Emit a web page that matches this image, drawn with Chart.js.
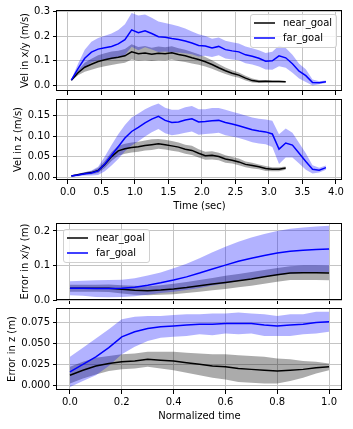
<!DOCTYPE html>
<html>
<head>
<meta charset="utf-8">
<script src="https://cdn.jsdelivr.net/npm/chart.js@4.4.0/dist/chart.umd.min.js"></script>
<style>
html, body { margin: 0; padding: 0; background: #fff; }
body { width: 353px; height: 429px; position: relative; overflow: hidden; }
.p { position: absolute; left: 0; width: 353px; }
</style>
</head>
<body>
<div class="p" style="top:0;height:100px;z-index:2"><canvas id="c1" width="353" height="100"></canvas></div>
<div class="p" style="top:90px;height:130px;z-index:1"><canvas id="c2" width="353" height="130"></canvas></div>
<div class="p" style="top:214px;height:95px;z-index:2"><canvas id="c3" width="353" height="95"></canvas></div>
<div class="p" style="top:299px;height:130px;z-index:1"><canvas id="c4" width="353" height="130"></canvas></div>
<script>
// time axes
var timeNear = [0.05,0.15,0.25,0.35,0.45,0.55,0.65,0.75,0.85,0.95,1.05,1.15,1.25,1.35,1.45,1.55,1.65,1.75,1.85,1.95,
                2.05,2.15,2.25,2.35,2.45,2.55,2.65,2.75,2.85,2.95,3.05,3.15,3.25];
var timeFar = [0.05,0.15,0.25,0.35,0.45,0.55,0.65,0.75,0.85,0.95,1.05,1.15,1.25,1.35,1.45,1.55,1.65,1.75,1.85,1.95,
               2.05,2.15,2.25,2.35,2.45,2.55,2.65,2.75,2.85,2.95,3.05,3.15,3.25,3.35,3.45,3.55,3.65,3.75,3.85];
var normTime = [0,0.05,0.1,0.15,0.2,0.25,0.3,0.35,0.4,0.45,0.5,0.55,0.6,0.65,0.7,0.75,0.8,0.85,0.9,0.95,1.0];

// Vel in x/y
var nearVelXY = [0.021,0.052,0.074,0.086,0.097,0.104,0.110,0.114,0.120,0.136,0.128,0.131,0.126,0.130,0.128,0.132,0.125,0.120,0.112,0.105,
                 0.096,0.085,0.072,0.060,0.050,0.042,0.030,0.020,0.016,0.017,0.016,0.016,0.015];
var nearVelXYStd = [0.003,0.010,0.018,0.022,0.025,0.026,0.027,0.026,0.028,0.031,0.028,0.029,0.027,0.028,0.027,0.027,0.026,0.025,0.023,0.021,
                    0.019,0.017,0.015,0.013,0.012,0.011,0.010,0.008,0.006,0.005,0.004,0.004,0.003];
var farVelXY = [0.022,0.068,0.110,0.135,0.147,0.153,0.158,0.168,0.185,0.225,0.213,0.221,0.210,0.197,0.195,0.190,0.186,0.180,0.172,0.162,
                0.160,0.152,0.158,0.145,0.140,0.136,0.124,0.118,0.110,0.098,0.100,0.120,0.112,0.088,0.058,0.040,0.012,0.011,0.015];
var farVelXYStd = [0.003,0.020,0.035,0.042,0.045,0.048,0.052,0.056,0.062,0.068,0.070,0.066,0.064,0.062,0.058,0.056,0.053,0.050,0.046,0.045,
                   0.040,0.037,0.036,0.036,0.035,0.034,0.034,0.033,0.033,0.033,0.036,0.042,0.040,0.036,0.030,0.026,0.012,0.006,0.005];

// Vel in z
var nearVelZ = [0.003,0.006,0.009,0.011,0.016,0.031,0.050,0.064,0.069,0.072,0.074,0.077,0.079,0.081,0.079,0.076,0.073,0.068,0.065,0.058,
                0.052,0.053,0.050,0.044,0.041,0.037,0.031,0.028,0.025,0.021,0.019,0.019,0.022];
var nearVelZStd = [0.001,0.002,0.003,0.004,0.006,0.009,0.011,0.012,0.012,0.012,0.012,0.012,0.013,0.012,0.012,0.012,0.011,0.011,0.011,0.010,
                   0.010,0.010,0.009,0.009,0.008,0.008,0.007,0.007,0.006,0.006,0.005,0.005,0.004];
var farVelZ = [0.003,0.005,0.008,0.010,0.015,0.032,0.053,0.074,0.095,0.111,0.121,0.132,0.141,0.148,0.138,0.133,0.134,0.139,0.142,0.134,
               0.135,0.137,0.138,0.133,0.129,0.125,0.120,0.115,0.112,0.110,0.105,0.068,0.083,0.078,0.058,0.038,0.019,0.017,0.023];
var farVelZStd = [0.002,0.003,0.004,0.006,0.010,0.018,0.025,0.030,0.032,0.034,0.034,0.033,0.032,0.031,0.031,0.031,0.030,0.031,0.031,0.031,
                  0.030,0.031,0.030,0.031,0.030,0.030,0.030,0.030,0.030,0.030,0.032,0.036,0.035,0.030,0.025,0.020,0.010,0.006,0.005];

// Error in x/y
var nearErrXY = [0.034,0.034,0.034,0.034,0.031,0.028,0.027,0.029,0.032,0.036,0.041,0.046,0.051,0.056,0.061,0.067,0.073,0.078,0.079,0.079,0.078];
var nearErrXYStd = [0.010,0.010,0.010,0.011,0.012,0.013,0.013,0.014,0.015,0.016,0.017,0.018,0.019,0.019,0.020,0.020,0.020,0.020,0.021,0.021,0.021];
var farErrXY = [0.034,0.034,0.033,0.033,0.034,0.037,0.043,0.050,0.058,0.067,0.078,0.090,0.101,0.112,0.121,0.129,0.136,0.141,0.144,0.146,0.148];
var farErrXYStd = [0.020,0.022,0.024,0.025,0.025,0.026,0.028,0.030,0.034,0.038,0.043,0.048,0.053,0.057,0.060,0.062,0.064,0.065,0.066,0.067,0.067];

// Error in z
var nearErrZ = [0.012,0.018,0.023,0.026,0.028,0.029,0.031,0.030,0.029,0.027,0.025,0.023,0.022,0.020,0.019,0.018,0.017,0.018,0.019,0.021,0.022];
var nearErrZStd = [0.010,0.010,0.010,0.009,0.009,0.009,0.009,0.010,0.011,0.012,0.013,0.014,0.015,0.016,0.016,0.016,0.015,0.013,0.010,0.007,0.004];
var farErrZ = [0.016,0.025,0.034,0.045,0.058,0.064,0.068,0.070,0.071,0.072,0.073,0.073,0.074,0.074,0.074,0.072,0.071,0.072,0.073,0.075,0.076];
var farErrZStd = [0.018,0.020,0.022,0.022,0.021,0.018,0.015,0.013,0.013,0.013,0.012,0.013,0.012,0.013,0.012,0.013,0.012,0.013,0.012,0.013,0.012];

var GRID = '#c4c4c4';
var NEAR_BAND = 'rgba(0,0,0,0.33)';
var FAR_BAND = 'rgba(0,0,255,0.3)';

Chart.defaults.font.family = "'DejaVu Sans', sans-serif";
Chart.defaults.font.size = 10;
Chart.defaults.color = '#000';

// black box round each axes
var frame = {
    id: 'frame',
    afterDatasetsDraw: function(chart) {
        var a = chart.chartArea, c = chart.ctx;
        c.save();
        c.strokeStyle = '#000';
        c.lineWidth = 1;
        var l = Math.round(a.left) - 0.5, t = Math.round(a.top) + 0.5;
        var r = Math.round(a.right) - 0.5, b = Math.round(a.bottom) - 0.5;
        c.strokeRect(l, t, r - l, b - t);
        c.restore();
    }
};

// matplotlib-like legend inside the axes
var legendBox = {
    id: 'legendBox',
    afterDraw: function(chart, args, opts) {
        if (!opts.corner) return;
        var ctx = chart.ctx, a = chart.chartArea;
        var w = 86, h = 33;
        var x = opts.corner === 'right' ? a.right - opts.dx - w : a.left + opts.dx;
        var y = a.top + opts.dy;
        ctx.save();
        ctx.beginPath();
        ctx.roundRect(Math.round(x) + 0.5, Math.round(y) + 0.5, w, h, 2.5);
        ctx.fillStyle = 'rgba(255,255,255,0.8)';
        ctx.fill();
        ctx.strokeStyle = '#d0d0d0';
        ctx.lineWidth = 1;
        ctx.stroke();
        var items = chart.data.datasets.filter(function(d) { return d.label.charAt(0) !== '_'; });
        items.forEach(function(d, i) {
            var ly = Math.round(y + 9 + i * 15);
            ctx.beginPath();
            ctx.moveTo(x + 4, ly);
            ctx.lineTo(x + 25, ly);
            ctx.strokeStyle = d.borderColor;
            ctx.lineWidth = 1.5;
            ctx.stroke();
            ctx.fillStyle = '#000';
            ctx.font = "10px 'DejaVu Sans'";
            ctx.textBaseline = 'middle';
            ctx.fillText(d.label, x + 33, ly);
        });
        ctx.restore();
    }
};

function pts(xs, ys, sign, sd) {
    return xs.map(function(x, i) { return {x: x, y: sd ? ys[i] + sign * sd[i] : ys[i]}; });
}

function seriesSets(label, color, band, xs, mean, sd, lineOrder, bandOrder) {
    return [
        {label: label, data: pts(xs, mean), borderColor: color, borderWidth: 1.5, pointRadius: 0, fill: false, order: lineOrder},
        {label: '_' + label + '_hi', data: pts(xs, mean, 1, sd), borderColor: 'rgba(0,0,0,0)', borderWidth: 0,
         backgroundColor: band, pointRadius: 0, fill: '+1', order: bandOrder},
        {label: '_' + label + '_lo', data: pts(xs, mean, -1, sd), borderColor: 'rgba(0,0,0,0)', borderWidth: 0,
         pointRadius: 0, fill: false, order: bandOrder}
    ];
}

function panel(id, o) {
    var datasets = seriesSets('near_goal', '#000000', NEAR_BAND, o.xNear, o.near, o.nearSd, 2, 4)
        .concat(seriesSets('far_goal', '#0000ff', FAR_BAND, o.xFar, o.far, o.farSd, 1, 3));
    return new Chart(document.getElementById(id), {
        type: 'line',
        data: {datasets: datasets},
        options: {
            responsive: false,
            animation: false,
            layout: {padding: {left: o.padL, top: o.padT, right: 11, bottom: o.padB}},
            plugins: {legend: {display: false}, tooltip: {enabled: false}, legendBox: o.legend || {}},
            scales: {
                x: {
                    type: 'linear', min: o.xMin, max: o.xMax,
                    border: {display: false},
                    grid: {color: GRID, lineWidth: 1, tickLength: 4, tickColor: '#000'},
                    ticks: {display: !!o.xTitle, stepSize: o.xStep, includeBounds: false, autoSkip: false,
                            maxRotation: 0, padding: 2, callback: function(v) { return v.toFixed(1); }},
                    title: {display: !!o.xTitle, text: o.xTitle || '', padding: 0},
                    afterFit: function(s) { s.height = o.xH; }
                },
                y: {
                    min: o.yMin, max: o.yMax,
                    border: {display: false},
                    grid: {color: GRID, lineWidth: 1, tickLength: 4, tickColor: '#000'},
                    ticks: {stepSize: o.yStep, includeBounds: false, padding: 3,
                            callback: function(v) { return v.toFixed(o.yDec); }},
                    title: {display: true, text: o.yTitle, padding: 0},
                    afterFit: function(s) { s.width = 57 - o.padL; }
                }
            }
        },
        plugins: [frame, legendBox]
    });
}

panel('c1', {
    xNear: timeNear, xFar: timeFar, near: nearVelXY, nearSd: nearVelXYStd, far: farVelXY, farSd: farVelXYStd,
    xMin: -0.164, xMax: 4.09, xStep: 0.5, xH: 5,
    yMin: -0.022, yMax: 0.305, yStep: 0.1, yDec: 1, yTitle: 'Vel in x/y (m/s)',
    padL: 19, padT: 10, padB: 0,
    legend: {corner: 'right', dx: 6, dy: 4}
});
panel('c2', {
    xNear: timeNear, xFar: timeFar, near: nearVelZ, nearSd: nearVelZStd, far: farVelZ, farSd: farVelZStd,
    xMin: -0.164, xMax: 4.09, xStep: 0.5, xH: 32, xTitle: 'Time (sec)',
    yMin: -0.007, yMax: 0.19, yStep: 0.05, yDec: 2, yTitle: 'Vel in z (m/s)',
    padL: 12, padT: 5, padB: 8
});
panel('c3', {
    xNear: normTime, xFar: normTime, near: nearErrXY, nearSd: nearErrXYStd, far: farErrXY, farSd: farErrXYStd,
    xMin: -0.05, xMax: 1.05, xStep: 0.2, xH: 5,
    yMin: 0, yMax: 0.223, yStep: 0.1, yDec: 1, yTitle: 'Error in x/y (m)',
    padL: 19, padT: 5, padB: 0,
    legend: {corner: 'left', dx: 6, dy: 6}
});
panel('c4', {
    xNear: normTime, xFar: normTime, near: nearErrZ, nearSd: nearErrZStd, far: farErrZ, farSd: farErrZStd,
    xMin: -0.05, xMax: 1.05, xStep: 0.2, xH: 32, xTitle: 'Normalized time',
    yMin: -0.0057, yMax: 0.0925, yStep: 0.025, yDec: 3, yTitle: 'Error in z (m)',
    padL: 6, padT: 5, padB: 7
});
</script>
</body>
</html>
